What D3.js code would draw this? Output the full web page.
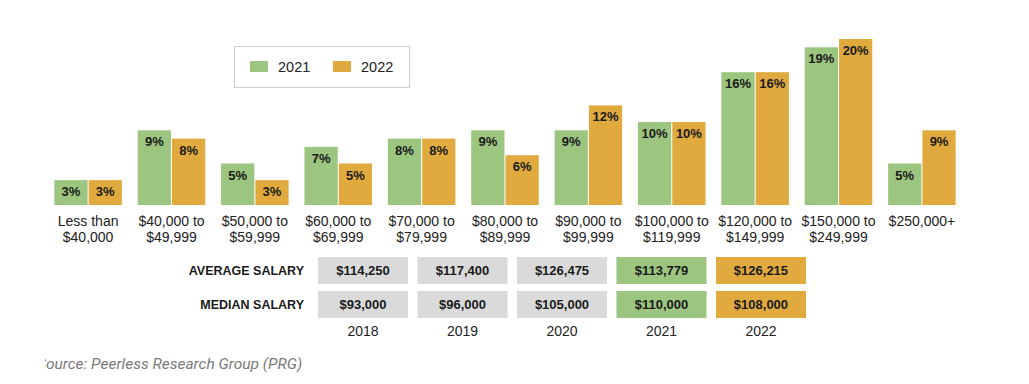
<!DOCTYPE html>
<html>
<head>
<meta charset="utf-8">
<script src="https://cdn.jsdelivr.net/npm/d3@7"></script>
<style>
  body { margin: 0; background: #fff; }
  svg { display: block; font-family: "Liberation Sans", Arial, sans-serif; }
</style>
</head>
<body>
<div id="chart-area"></div>
<script>
/* Salary distribution, 2021 vs 2022 */

var categories = [
    ["Less than", "$40,000"], ["$40,000 to", "$49,999"], ["$50,000 to", "$59,999"],
    ["$60,000 to", "$69,999"], ["$70,000 to", "$79,999"], ["$80,000 to", "$89,999"],
    ["$90,000 to", "$99,999"], ["$100,000 to", "$119,999"], ["$120,000 to", "$149,999"],
    ["$150,000 to", "$249,999"], ["$250,000+"]
];
var values2021 = [3, 9, 5, 7, 8, 9, 9, 10, 16, 19, 5];
var values2022 = [3, 8, 3, 5, 8, 6, 12, 10, 16, 20, 9];
var series = ["2021", "2022"];

var years = ["2018", "2019", "2020", "2021", "2022"];
var averageSalary = ["$114,250", "$117,400", "$126,475", "$113,779", "$126,215"];
var medianSalary = ["$93,000", "$96,000", "$105,000", "$110,000", "$108,000"];

var green = "#9cc57f";
var orange = "#e1aa3f";
var grey = "#dadada";

var width = 1029, height = 384;

var svg = d3.select("#chart-area")
    .append("svg")
    .attr("width", width)
    .attr("height", height);

// bars
var baseline = 205;
var x0 = d3.scaleBand()
    .domain(d3.range(categories.length))
    .range([46, 964])
    .paddingInner(0.19)
    .paddingOuter(0.1);

var x1 = d3.scaleBand()
    .domain(series)
    .range([0, x0.bandwidth()])
    .paddingInner(0.03);

var y = d3.scaleLinear()
    .domain([0, 20])
    .range([baseline, 39]);

var data = categories.map(function(c, i) {
    return { i: i, label: c, vals: [
        { s: "2021", v: values2021[i] },
        { s: "2022", v: values2022[i] }
    ] };
});

var groups = svg.selectAll("g.group")
    .data(data)
    .enter()
    .append("g")
    .attr("class", "group")
    .attr("transform", function(d) { return "translate(" + x0(d.i) + ",0)"; });

groups.selectAll("rect")
    .data(function(d) { return d.vals; })
    .enter()
    .append("rect")
    .attr("x", function(d) { return x1(d.s); })
    .attr("y", function(d) { return y(d.v); })
    .attr("width", x1.bandwidth())
    .attr("height", function(d) { return baseline - y(d.v); })
    .attr("fill", function(d) { return d.s === "2021" ? green : orange; });

groups.selectAll("text.val")
    .data(function(d) { return d.vals; })
    .enter()
    .append("text")
    .attr("class", "val")
    .attr("x", function(d) { return x1(d.s) + x1.bandwidth() / 2; })
    .attr("y", function(d) { return y(d.v) + 16; })
    .attr("text-anchor", "middle")
    .attr("font-size", 13)
    .attr("font-weight", "bold")
    .attr("fill", "#1a1a1a")
    .text(function(d) { return d.v + "%"; });

groups.append("text")
    .attr("x", x0.bandwidth() / 2)
    .attr("text-anchor", "middle")
    .attr("font-size", 14)
    .attr("fill", "#222")
    .selectAll("tspan")
    .data(function(d) { return d.label; })
    .enter()
    .append("tspan")
    .attr("x", x0.bandwidth() / 2)
    .attr("y", function(d, i) { return 226 + i * 16; })
    .text(function(d) { return d; });

// legend
var legend = svg.append("g").attr("transform", "translate(234,46)");
legend.append("rect")
    .attr("x", 0.5).attr("y", 0.5)
    .attr("width", 175).attr("height", 41)
    .attr("fill", "#fff")
    .attr("stroke", "#cfcfcf");
series.forEach(function(s, i) {
    legend.append("rect")
        .attr("x", 16 + i * 83).attr("y", 15)
        .attr("width", 18).attr("height", 11)
        .attr("fill", i === 0 ? green : orange);
    legend.append("text")
        .attr("x", 44 + i * 83).attr("y", 26)
        .attr("font-size", 14.5)
        .attr("fill", "#222")
        .text(s);
});

// salary table
var xt = d3.scaleBand()
    .domain(years)
    .range([318, 806])
    .paddingInner(0.095)
    .paddingOuter(0);

var rows = [
    { name: "AVERAGE SALARY", vals: averageSalary, y: 257 },
    { name: "MEDIAN SALARY", vals: medianSalary, y: 291 }
];
var cellFill = function(yr) {
    return yr === "2021" ? green : (yr === "2022" ? orange : grey);
};

rows.forEach(function(r) {
    svg.append("text")
        .attr("x", 304)
        .attr("y", r.y + 18)
        .attr("text-anchor", "end")
        .attr("font-size", 12.5)
        .attr("font-weight", "bold")
        .attr("fill", "#1a1a1a")
        .text(r.name);
    years.forEach(function(yr, i) {
        svg.append("rect")
            .attr("x", xt(yr))
            .attr("y", r.y)
            .attr("width", xt.bandwidth())
            .attr("height", 27)
            .attr("fill", cellFill(yr));
        svg.append("text")
            .attr("x", xt(yr) + xt.bandwidth() / 2)
            .attr("y", r.y + 18)
            .attr("text-anchor", "middle")
            .attr("font-size", 13)
            .attr("font-weight", "bold")
            .attr("fill", "#1a1a1a")
            .text(r.vals[i]);
    });
});

svg.selectAll("text.year")
    .data(years)
    .enter()
    .append("text")
    .attr("class", "year")
    .attr("x", function(d) { return xt(d) + xt.bandwidth() / 2; })
    .attr("y", 336)
    .attr("text-anchor", "middle")
    .attr("font-size", 14)
    .attr("fill", "#222")
    .text(function(d) { return d; });

// source (left edge is cut off in the original)
svg.append("clipPath").attr("id", "srcclip")
    .append("rect").attr("x", 45).attr("y", 340).attr("width", 400).attr("height", 40);
svg.append("text")
    .attr("clip-path", "url(#srcclip)")
    .attr("x", 37)
    .attr("y", 369)
    .attr("font-family", "Roboto, sans-serif")
    .attr("font-style", "italic")
    .attr("font-size", 15.5)
    .attr("fill", "#7a7a7a")
    .text("Source: Peerless Research Group (PRG)");
</script>
</body>
</html>
